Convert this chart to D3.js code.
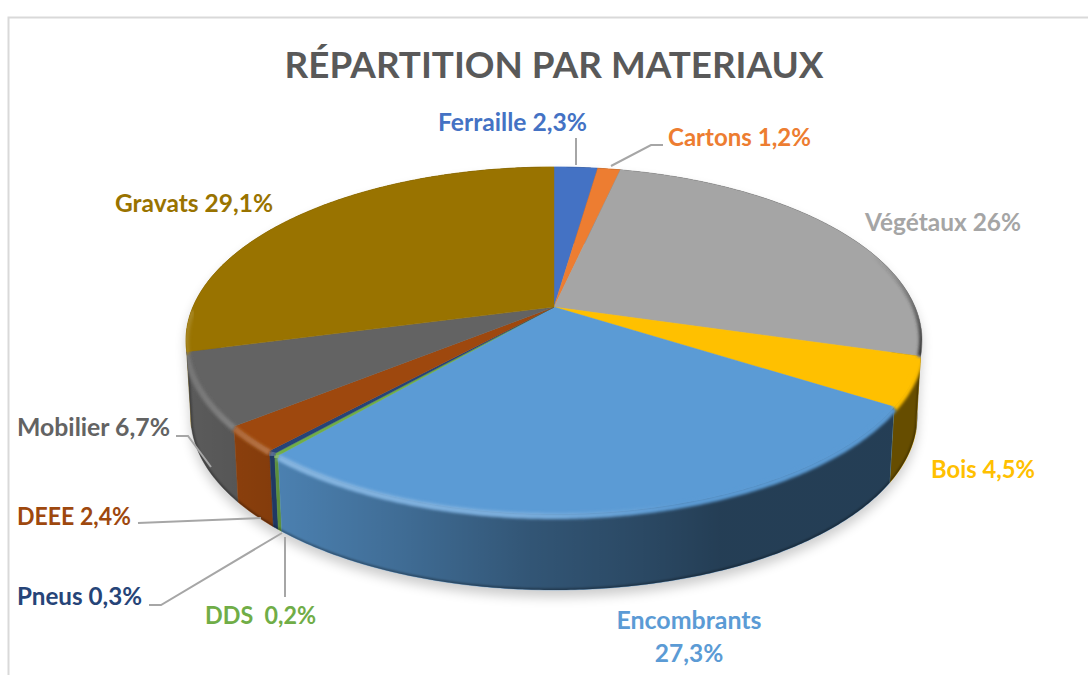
<!DOCTYPE html>
<html>
<head>
<meta charset="utf-8">
<script src="https://cdn.jsdelivr.net/npm/d3@7"></script>
<style>
  html, body { margin: 0; padding: 0; background: #fff; overflow: hidden; }
  text { font-family: Lato, "Open Sans", sans-serif; font-weight: 700; }
</style>
</head>
<body>
<svg id="chart" width="1088" height="675"></svg>
<script>
const categories = ["Ferraille", "Cartons", "Végétaux", "Bois", "Encombrants", "DDS", "Pneus", "DEEE", "Mobilier", "Gravats"]
const values = [2.3, 1.2, 26, 4.5, 27.3, 0.2, 0.3, 2.4, 6.7, 29.1]
const valueLabels = ["2,3%", "1,2%", "26%", "4,5%", "27,3%", "0,2%", "0,3%", "2,4%", "6,7%", "29,1%"]
const colors = ["#4472c4", "#ed7d31", "#a5a5a5", "#ffc000", "#5b9bd5", "#70ad47", "#264478", "#9e480e", "#636363", "#997300"]

// label placement, same order as categories: x, baseline, anchor, width
const labelPos = [
  [438, 131, "start", 149], [668, 146, "start", 143], [865, 231, "start", 156], [931, 478, "start", 104], [689, 629, "middle", 145],
  [205, 624, "start", 111], [17, 605, "start", 125], [17, 525, "start", 114], [17, 436, "start", 153], [115, 212, "start", 158]
]
const leaders = [
  [[576, 138], [576, 165]],
  [[663, 145], [651, 145], [611, 166]],
  [[285, 537], [285, 597]],
  [[149, 605], [161, 605], [282, 533]],
  [[138, 523], [261, 518]],
  [[176, 436], [188, 436], [211, 467]]
]

const svg = d3.select("#chart")
const defs = svg.append("defs")

// pie plane -> screen, a perspective view of the unit disc
const cx = 554, yBack = 167, yCentre = 307, yFront = 514, depth = 76, taper = 0.987
const c = (2 * yCentre - yBack - yFront) / (yFront - yBack)
const a = yFront * (1 + c) - yCentre
const spread = 368 * Math.sqrt(1 - c * c)
const vWide = -c

function project(t) {
  const u = Math.sin(t), v = -Math.cos(t), w = 1 + c * v
  return [cx + spread * u / w, (a * v + yCentre) / w]
}
// same rim point at the foot of the wall, a little narrower
const foot = p => [cx + (p[0] - cx) * taper, p[1] + depth]
const centre = [cx, yCentre]
const line = d3.line()

function samples(t0, t1) {
  const n = Math.max(2, Math.ceil((t1 - t0) / 0.01))
  return d3.range(n + 1).map(i => t0 + (t1 - t0) * i / n)
}

const pie = d3.pie().sort(null).value(d => d)
const slices = pie(values).map((d, i) => ({ ...d, name: categories[i], color: colors[i], i }))

// outline of the whole solid
const outline = line(samples(0, 2 * Math.PI).map(t => {
  const p = project(t)
  return -Math.cos(t) > vWide ? foot(p) : p
})) + "Z"

const blur = (id, sd) => defs.append("filter").attr("id", id)
  .attr("x", "-10%").attr("y", "-10%").attr("width", "120%").attr("height", "120%")
  .append("feGaussianBlur").attr("stdDeviation", sd)
blur("shadowBlur", 6)
blur("edgeBlur", 1.6)
blur("lineBlur", 0.8)

defs.append("clipPath").attr("id", "solid").append("path").attr("d", outline)

function hGradient(id, stops, color) {
  defs.append("linearGradient").attr("id", id)
    .attr("gradientUnits", "userSpaceOnUse")
    .attr("x1", 186).attr("x2", 922).attr("y1", 0).attr("y2", 0)
    .selectAll("stop").data(stops).join("stop")
    .attr("offset", d => (d[0] - 186) / 736)
    .attr("stop-color", color)
    .attr("stop-opacity", d => d[1])
}
hGradient("wallShade", [[186, 0.08], [285, 0.18], [400, 0.3], [530, 0.45], [640, 0.53], [720, 0.6], [922, 0.6]], "#000")
hGradient("rimLight", [[186, 0.12], [285, 0.26], [520, 0.2], [680, 0], [922, 0]], "#fff")

const rimDark = defs.append("linearGradient").attr("id", "rimDark")
  .attr("gradientUnits", "userSpaceOnUse")
  .attr("x1", 0).attr("x2", 0).attr("y1", 255).attr("y2", 352)
rimDark.append("stop").attr("offset", 0).attr("stop-color", "#333").attr("stop-opacity", 0)
rimDark.append("stop").attr("offset", 1).attr("stop-color", "#333").attr("stop-opacity", 0.95)

// frame
svg.append("path").attr("d", "M8.5,675V17.5H1088").attr("fill", "none").attr("stroke", "#d9d9d9").attr("stroke-width", 2)

// title
svg.append("text").attr("x", 554).attr("y", 78).attr("text-anchor", "middle")
  .attr("font-size", 36.8).attr("fill", "#595959").text("RÉPARTITION PAR MATERIAUX")

// soft shadow under the solid
svg.append("path").attr("d", outline)
  .attr("transform", "translate(0,7)")
  .attr("fill", "#000").attr("opacity", 0.2).attr("filter", "url(#shadowBlur)")

// side walls
const walls = svg.append("g")
slices.slice().sort((p, q) => -Math.cos((q.startAngle + q.endAngle) / 2) < -Math.cos((p.startAngle + p.endAngle) / 2) ? 1 : -1)
  .forEach(d => {
    const ts = samples(d.startAngle, d.endAngle)
    const top = ts.map(project)
    const low = top.map(foot).reverse()
    const path = line(top.concat(low)) + "Z"
    walls.append("path").attr("d", path).attr("fill", d.color).attr("stroke", d.color).attr("stroke-width", 0.5)
    walls.append("path").attr("d", path).attr("fill", "url(#wallShade)")
  })

// darker line along the bottom of the solid
const solid = svg.append("g").attr("clip-path", "url(#solid)")
solid.append("path").attr("d", outline).attr("fill", "none")
  .attr("stroke", "#000").attr("stroke-opacity", 0.35).attr("stroke-width", 3).attr("filter", "url(#lineBlur)")

// top faces
svg.append("g").selectAll("path").data(slices).join("path")
  .attr("d", d => line([centre].concat(samples(d.startAngle, d.endAngle).map(project))) + "Z")
  .attr("fill", d => d.color)
  .attr("stroke", d => d.color).attr("stroke-width", 0.4)

// bevel round the front edge of the top
const bevel = svg.append("g").attr("clip-path", "url(#solid)")
slices.forEach(d => {
  const ts = samples(d.startAngle, d.endAngle).filter(t => -Math.cos(t) > 0)
  if (ts.length < 2) return
  const rim = line(ts.map(project).map(p => [p[0], p[1] + 2]))
  bevel.append("path").attr("d", rim).attr("fill", "none").attr("stroke", d.color)
    .attr("stroke-width", 6).attr("filter", "url(#edgeBlur)")
  bevel.append("path").attr("d", rim).attr("fill", "none").attr("stroke", "url(#rimLight)")
    .attr("stroke-width", 6).attr("filter", "url(#edgeBlur)")
})

// shaded edge of Végétaux on the right
const veg = slices[2]
const vegRim = line(samples(veg.startAngle, veg.endAngle).map(project).filter(p => p[1] > 250))
svg.append("path").attr("d", vegRim).attr("fill", "none").attr("stroke", "url(#rimDark)")
  .attr("stroke-width", 6).attr("filter", "url(#edgeBlur)").attr("clip-path", "url(#solid)")

// leader lines
svg.append("g").selectAll("path").data(leaders).join("path")
  .attr("d", d => line(d)).attr("fill", "none").attr("stroke", "#a6a6a6").attr("stroke-width", 2)

// labels
const labels = svg.append("g").attr("font-size", 24.5)
slices.forEach((d, i) => {
  const [x, y, anchor, width] = labelPos[i]
  const t = labels.append("text").attr("x", x).attr("y", y).attr("text-anchor", anchor).attr("fill", d.color)
    .attr("xml:space", "preserve")
    .attr("textLength", width).attr("lengthAdjust", "spacingAndGlyphs")
  if (d.name === "Encombrants") {
    t.text(d.name)
    labels.append("text").attr("x", x).attr("y", y + 33).attr("text-anchor", anchor).attr("fill", d.color).text(valueLabels[i])
  } else {
    t.text(d.name + (d.name === "DDS" ? "  " : " ") + valueLabels[i])
  }
})
</script>
</body>
</html>
